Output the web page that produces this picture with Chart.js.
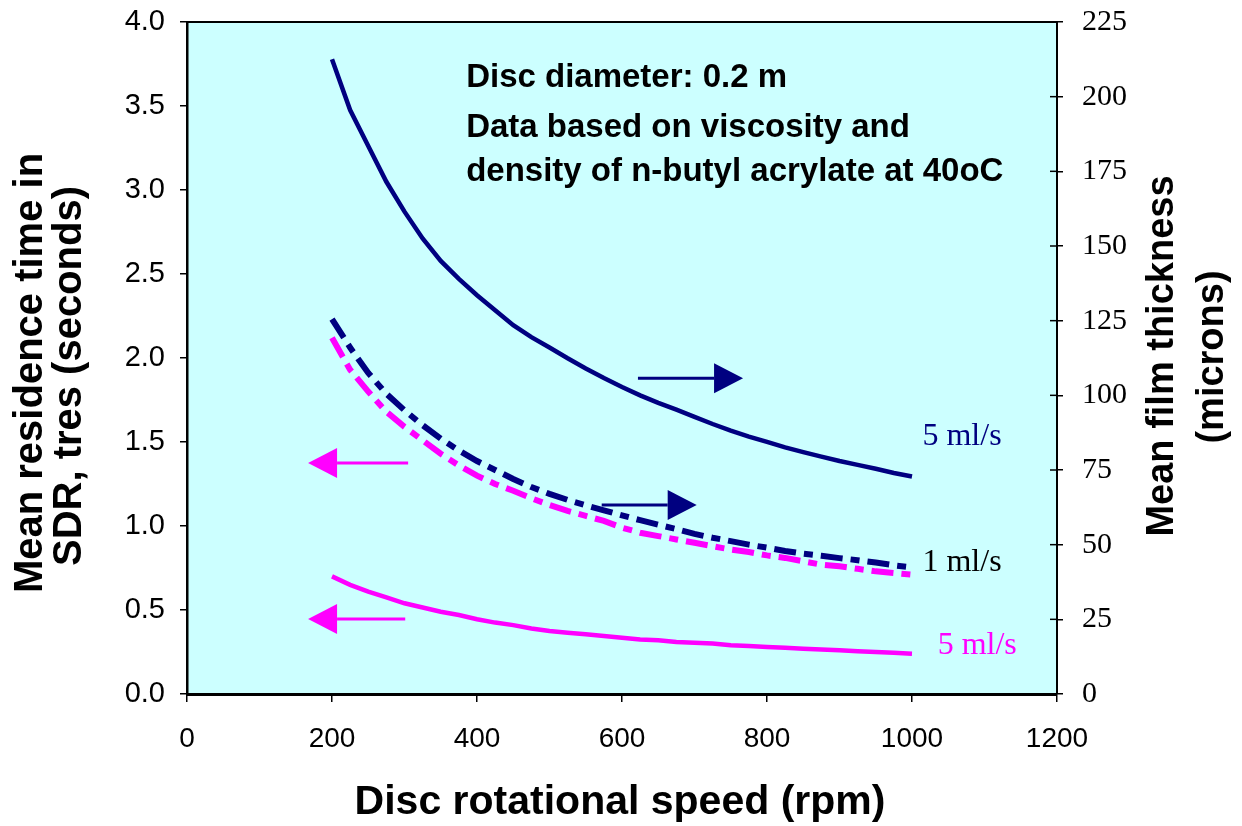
<!DOCTYPE html>
<html><head><meta charset="utf-8">
<script src="https://cdn.jsdelivr.net/npm/chart.js@4.4.0/dist/chart.umd.min.js"></script>
<style>html,body{margin:0;padding:0;background:#fff;overflow:hidden;}</style>
</head><body>
<canvas id="c" width="1242" height="826"></canvas>
<script>
// ---- data ----
const rpm = [200,225,250,275,300,325,350,375,400,425,450,475,500,525,550,575,600,625,650,675,700,725,750,775,800,825,850,875,900,925,950,975,1000];
// Mean film thickness (microns), right axis
const film5 = [212.5,195.5,183.5,171.5,161.5,152.5,145,139,133.5,128.5,123.5,119.5,116,112.4,109,105.8,102.8,100,97.5,95.2,92.8,90.4,88.2,86.2,84.4,82.6,81,79.5,78,76.7,75.4,74,72.8];
const film1 = [125.5,116,107.5,100.5,95,90,85.5,81.5,78,75,72,69.3,67,65,63.2,61.5,59.8,58.2,56.7,55.2,53.6,52.3,51.2,50,49,47.9,47,46.3,45.5,44.8,44,43.1,42.4];
// Mean residence time (s), left axis
const tres1 = [2.12,1.93,1.80,1.68,1.59,1.51,1.43,1.36,1.30,1.25,1.21,1.165,1.125,1.09,1.06,1.03,0.99,0.96,0.94,0.92,0.90,0.88,0.86,0.845,0.825,0.81,0.79,0.77,0.76,0.745,0.73,0.72,0.71];
const tres5 = [0.70,0.65,0.61,0.575,0.54,0.515,0.49,0.47,0.445,0.425,0.41,0.39,0.375,0.365,0.355,0.345,0.335,0.325,0.32,0.31,0.305,0.30,0.29,0.285,0.28,0.275,0.27,0.265,0.26,0.255,0.25,0.245,0.24];

const xRange = [0, 1200, 200];
const leftRange = [0, 4, 0.5];
const rightRange = [0, 225, 25];

const NAVY = '#000080', MAGENTA = '#FF00FF';
const SANS = '"Liberation Sans", Arial, sans-serif';
const SERIF = '"Liberation Serif", "Times New Roman", serif';

// annotations in data coordinates (x: rpm, y: left-axis value)
const arrows = [
  {from:[622,1.88], to:[767,1.88], color:NAVY},
  {from:[572,1.125], to:[703,1.125], color:NAVY},
  {from:[305,1.375], to:[167,1.375], color:MAGENTA},
  {from:[301,0.446], to:[167,0.446], color:MAGENTA}
];
const notes = [
  {text:'Disc diameter: 0.2 m', x:385, y:3.667},
  {text:'Data based on viscosity and', x:385, y:3.369},
  {text:'density of n-butyl acrylate at 40oC', x:385, y:3.107}
];
const seriesLabels = [
  {text:'5 ml/s', x:1069, y:1.53, color:NAVY},
  {text:'1 ml/s', x:1069, y:0.78, color:'#000000'},
  {text:'5 ml/s', x:1090, y:0.286, color:MAGENTA}
];

const toXY = ys => rpm.map((x,i)=>({x:x, y:ys[i]}));

const decor = {
  id:'decor',
  beforeDraw(chart){
    const {ctx, chartArea:a} = chart;
    ctx.save();
    ctx.fillStyle = '#CCFFFF';
    ctx.fillRect(a.left, a.top, a.right-a.left, a.bottom-a.top);
    ctx.restore();
  },
  afterDatasetsDraw(chart){
    const ctx = chart.ctx, sx = chart.scales.x, sy = chart.scales.y;
    ctx.save();
    arrows.forEach(ar=>{
      const x0 = sx.getPixelForValue(ar.from[0]), x1 = sx.getPixelForValue(ar.to[0]);
      const y = sy.getPixelForValue(ar.from[1]);
      const dir = Math.sign(x1-x0), head = 29, half = 15;
      ctx.strokeStyle = ar.color; ctx.fillStyle = ar.color; ctx.lineWidth = 3;
      ctx.beginPath(); ctx.moveTo(x0, y); ctx.lineTo(x1 - dir*head, y); ctx.stroke();
      ctx.beginPath(); ctx.moveTo(x1, y); ctx.lineTo(x1 - dir*head, y-half); ctx.lineTo(x1 - dir*head, y+half); ctx.closePath(); ctx.fill();
    });
    ctx.fillStyle = '#000'; ctx.font = 'bold 33px ' + SANS; ctx.textAlign = 'left'; ctx.textBaseline = 'middle';
    notes.forEach(n=> ctx.fillText(n.text, sx.getPixelForValue(n.x), sy.getPixelForValue(n.y)));
    ctx.font = '32px ' + SERIF; ctx.textAlign = 'center';
    seriesLabels.forEach(l=>{ ctx.fillStyle = l.color; ctx.fillText(l.text, sx.getPixelForValue(l.x), sy.getPixelForValue(l.y)); });
    ctx.restore();
  },
  afterDraw(chart){
    const {ctx, chartArea:a} = chart;
    const yr = chart.scales.yR;
    ctx.save();
    ctx.strokeStyle = '#000'; ctx.lineWidth = 2;
    ctx.beginPath(); ctx.moveTo(a.left, a.top); ctx.lineTo(a.right, a.top); ctx.stroke();
    ctx.lineWidth = 1.5;
    yr.ticks.forEach(t=>{ const y = yr.getPixelForValue(t.value); ctx.beginPath(); ctx.moveTo(a.right-7, y); ctx.lineTo(a.right, y); ctx.stroke(); });
    ctx.fillStyle = '#000'; ctx.textAlign = 'center'; ctx.textBaseline = 'middle';
    ctx.font = 'bold 41px ' + SANS;
    ctx.fillText('Disc rotational speed (rpm)', 620, 803);
    ctx.font = 'bold 40px ' + SANS;
    ctx.save(); ctx.translate(31, 373); ctx.rotate(-Math.PI/2); ctx.fillText('Mean residence time in', 0, 0); ctx.restore();
    ctx.save(); ctx.translate(70, 376); ctx.rotate(-Math.PI/2); ctx.fillText('SDR, tres (seconds)', 0, 0); ctx.restore();
    ctx.font = 'bold 38px ' + SANS;
    ctx.save(); ctx.translate(1163, 356); ctx.rotate(-Math.PI/2); ctx.fillText('Mean film thickness', 0, 0); ctx.restore();
    ctx.save(); ctx.translate(1213, 357); ctx.rotate(-Math.PI/2); ctx.fillText('(microns)', 0, 0); ctx.restore();
    ctx.restore();
  }
};

function fixV(w){ return function(s){ s.width = w; s.paddingTop = 0; s.paddingBottom = 0; }; }

new Chart(document.getElementById('c'), {
  type:'line',
  data:{ datasets:[
    {label:'Film thickness 5 ml/s', data:toXY(film5), yAxisID:'yR', borderColor:NAVY, borderWidth:4.5, pointRadius:0, fill:false, tension:0},
    {label:'Film thickness 1 ml/s', data:toXY(film1), yAxisID:'yR', borderColor:NAVY, borderWidth:6, borderDash:[22,8,9,8], pointRadius:0, fill:false, tension:0},
    {label:'Residence time 1 ml/s', data:toXY(tres1), yAxisID:'y', borderColor:MAGENTA, borderWidth:6, borderDash:[22,8,9,8], pointRadius:0, fill:false, tension:0},
    {label:'Residence time 5 ml/s', data:toXY(tres5), yAxisID:'y', borderColor:MAGENTA, borderWidth:4.5, pointRadius:0, fill:false, tension:0}
  ]},
  options:{
    responsive:false, animation:false, devicePixelRatio:1,
    layout:{padding:{top:22, left:0, right:0, bottom:0}},
    plugins:{legend:{display:false}, tooltip:{enabled:false}, title:{display:false}},
    scales:{
      x:{type:'linear', position:'bottom', min:xRange[0], max:xRange[1],
         ticks:{stepSize:xRange[2], color:'#000', font:{family:SANS, size:28}, padding:20, maxRotation:0, callback:v=>String(v)},
         grid:{drawOnChartArea:false, tickLength:8, color:'#000', lineWidth:1.5},
         border:{display:true, color:'#000', width:3},
         afterFit(s){ s.height = 132; s.paddingLeft = 0; s.paddingRight = 0; }},
      y:{type:'linear', position:'left', min:leftRange[0], max:leftRange[1],
         ticks:{stepSize:leftRange[2], color:'#000', font:{family:SANS, size:29}, padding:15, callback:v=>Number(v).toFixed(1)},
         grid:{drawOnChartArea:false, tickLength:7, color:'#000', lineWidth:1.5},
         border:{display:true, color:'#000', width:2.5},
         afterFit:fixV(187)},
      yR:{type:'linear', position:'right', min:rightRange[0], max:rightRange[1],
         ticks:{stepSize:rightRange[2], color:'#000', font:{family:SERIF, size:30}, padding:19},
         grid:{drawOnChartArea:false, tickLength:6, color:'#000', lineWidth:1.5},
         border:{display:true, color:'#000', width:2},
         afterFit:fixV(185)}
    }
  },
  plugins:[decor]
});
</script>
</body></html>
